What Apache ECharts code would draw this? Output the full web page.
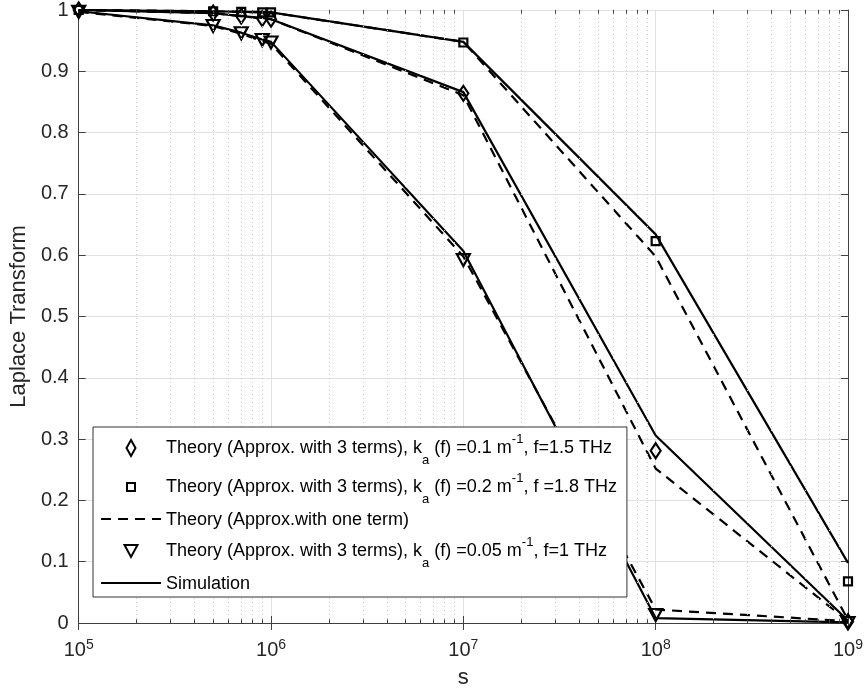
<!DOCTYPE html>
<html>
<head>
<meta charset="utf-8">
<script src="https://cdn.jsdelivr.net/npm/echarts@6/dist/echarts.min.js"></script>
<style>
  html, body { margin: 0; padding: 0; background: #fff; }
  #chart { width: 866px; height: 694px; }
</style>
</head>
<body>
<div id="chart"></div>
<script>
// x values (s) shared by every curve
var sVals = [1e5, 5e5, 7e5, 9e5, 1e6, 1e7, 1e8, 1e9];
var decades = [1e5, 1e6, 1e7, 1e8, 1e9];
var minorSteps = [2, 3, 4, 5, 6, 7, 8, 9];

// k_a = 0.1, f = 1.5 THz
var diaTheory  = [1.000, 0.995, 0.990, 0.986, 0.985, 0.864, 0.281, 0.002];
var diaOneTerm = [1.000, 0.995, 0.990, 0.986, 0.985, 0.861, 0.252, 0.003];
var diaSim     = [1.000, 0.995, 0.990, 0.987, 0.985, 0.866, 0.306, 0.004];
// k_a = 0.2, f = 1.8 THz
var sqTheory  = [1.000, 0.998, 0.997, 0.996, 0.996, 0.947, 0.623, 0.068];
var sqOneTerm = [1.000, 0.998, 0.997, 0.996, 0.996, 0.948, 0.598, 0.005];
var sqSim     = [1.000, 0.998, 0.997, 0.997, 0.996, 0.948, 0.634, 0.098];
// k_a = 0.05, f = 1 THz
var triTheory  = [0.997, 0.974, 0.962, 0.951, 0.947, 0.592, 0.013, 0.000];
var triOneTerm = [0.997, 0.974, 0.961, 0.949, 0.945, 0.598, 0.022, 0.003];
var triSim     = [0.998, 0.975, 0.963, 0.952, 0.948, 0.607, 0.008, 0.001];

var nDia = 'Theory (Approx. with 3 terms), ka (f) =0.1 m-1, f=1.5 THz';
var nSq = 'Theory (Approx. with 3 terms), ka (f) =0.2 m-1, f =1.8 THz';
var nDash = 'Theory (Approx.with one term)';
var nTri = 'Theory (Approx. with 3 terms), ka (f) =0.05 m-1, f=1 THz';
var nSim = 'Simulation';

var legendText = {};
legendText[nDia] = '{t|Theory (Approx. with 3 terms), k}{sub|a}{t| (f) =0.1 m}{sup|-1}{t|, f=1.5 THz}';
legendText[nSq] = '{t|Theory (Approx. with 3 terms), k}{sub|a}{t| (f) =0.2 m}{sup|-1}{t|, f =1.8 THz}';
legendText[nDash] = '{p|Theory (Approx.with one term)}';
legendText[nTri] = '{t|Theory (Approx. with 3 terms), k}{sub|a}{t| (f) =0.05 m}{sup|-1}{t|, f=1 THz}';
legendText[nSim] = '{p|Simulation}';

var font = 'Liberation Sans, Arial, Helvetica, sans-serif';
var axisColor = '#404040';

function pairs(arr) {
  return sVals.map(function (s, i) { return [s, arr[i]]; });
}

function markerSeries(name, arr, symbol, size, rotate) {
  return {
    name: name, type: 'scatter', data: pairs(arr), z: 4,
    symbol: symbol, symbolSize: size, symbolRotate: rotate || 0,
    itemStyle: { color: 'rgba(0,0,0,0)', borderColor: '#000', borderWidth: 2.2, opacity: 1 }
  };
}

function lineSeries(name, arr, dashed) {
  return {
    name: name, type: 'line', data: pairs(arr), symbol: 'none', z: 3,
    lineStyle: { color: '#000', width: 2.2, type: dashed ? [10, 7] : 'solid' },
    // transparent so the legend icon shows only the line
    itemStyle: { color: 'rgba(0,0,0,0)', borderWidth: 0 }
  };
}

// minor grid / minor ticks at 2..9 x 10^n
var minorVals = [];
decades.slice(0, -1).forEach(function (d) {
  minorSteps.forEach(function (m) { minorVals.push(m * d); });
});

var minorGrid = minorVals.map(function (v) { return { xAxis: v }; });
var minorTicks = [];
minorVals.forEach(function (v) {
  minorTicks.push([{ coord: [v, 0] }, { coord: [v, 0.006] }]);
  minorTicks.push([{ coord: [v, 1] }, { coord: [v, 0.994] }]);
});

var chart = echarts.init(document.getElementById('chart'));

var option = {
  animation: false,
  backgroundColor: '#fff',
  grid: { left: 76, right: 17, top: 10, bottom: 68 },
  legend: {
    orient: 'vertical',
    left: 93, top: 427,
    padding: [2, 10, 2, 7],
    itemGap: 1,
    itemWidth: 60, itemHeight: 16,
    itemTextGap: 5,
    backgroundColor: '#fff',
    borderColor: '#333', borderWidth: 1,
    z: 10,
    data: [
      { name: nDia, icon: 'path://M0,0M16,16M8,0L12.5,8L8,16L3.5,8Z' },
      { name: nSq, icon: 'path://M0,0M16,16M4,4L12,4L12,12L4,12Z' },
      nDash,
      { name: nTri, icon: 'path://M0,0M16,16M1.5,2L14.5,2L8,14Z' },
      nSim
    ],
    formatter: function (name) { return legendText[name]; },
    textStyle: {
      fontFamily: font, fontSize: 18, color: '#000',
      rich: {
        t: { fontFamily: font, fontSize: 18, color: '#000', lineHeight: 38 },
        sub: { fontFamily: font, fontSize: 13, color: '#000', lineHeight: 6, padding: [25, 0, 0, 0] },
        sup: { fontFamily: font, fontSize: 13, color: '#000', lineHeight: 6, padding: [0, 0, 18, 0] },
        p: { fontFamily: font, fontSize: 18, color: '#000', lineHeight: 18, padding: [4, 0, 2, 0] }
      }
    }
  },
  xAxis: [{
    type: 'log', logBase: 10, min: 1e5, max: 1e9,
    name: 's', nameLocation: 'middle', nameGap: 44,
    nameTextStyle: { fontFamily: font, fontSize: 22, color: '#262626' },
    axisLine: { lineStyle: { color: axisColor, width: 1 } },
    axisTick: { inside: true, length: 7, lineStyle: { color: axisColor } },
    splitLine: { show: true, lineStyle: { color: '#e1e1e1', width: 1 } },
    axisLabel: {
      margin: 15,
      formatter: function (v) {
        return '{b|10}{e|' + Math.round(Math.log10(v)) + '}';
      },
      rich: {
        b: { fontFamily: font, fontSize: 20, color: '#262626', lineHeight: 24 },
        e: { fontFamily: font, fontSize: 14, color: '#262626', lineHeight: 10, verticalAlign: 'top' }
      }
    }
  }, {
    type: 'log', logBase: 10, min: 1e5, max: 1e9, position: 'top',
    axisLine: { lineStyle: { color: axisColor, width: 1 } },
    axisTick: { inside: true, length: 7, lineStyle: { color: axisColor } },
    axisLabel: { show: false },
    splitLine: { show: false }
  }],
  yAxis: [{
    type: 'value', min: 0, max: 1, interval: 0.1,
    name: 'Laplace Transform', nameLocation: 'middle', nameGap: 45,
    nameTextStyle: { fontFamily: font, fontSize: 22, color: '#262626' },
    axisLine: { show: true, lineStyle: { color: axisColor, width: 1 } },
    axisTick: { show: true, inside: true, length: 7, lineStyle: { color: axisColor } },
    splitLine: { show: true, lineStyle: { color: '#e1e1e1', width: 1 } },
    axisLabel: { fontFamily: font, fontSize: 20, color: '#262626', margin: 10 }
  }, {
    type: 'value', min: 0, max: 1, interval: 0.1, position: 'right',
    axisLine: { show: true, lineStyle: { color: axisColor, width: 1 } },
    axisTick: { show: true, inside: true, length: 7, lineStyle: { color: axisColor } },
    axisLabel: { show: false },
    splitLine: { show: false }
  }],
  series: [
    {
      name: 'minorGrid', type: 'line', data: [], silent: true, z: 1,
      markLine: {
        silent: true, symbol: ['none', 'none'], label: { show: false },
        lineStyle: { color: '#c9c9c9', type: [1, 3], width: 1 },
        data: minorGrid
      }
    },
    {
      name: 'minorTicks', type: 'line', data: [], silent: true, z: 1,
      markLine: {
        silent: true, symbol: ['none', 'none'], label: { show: false },
        lineStyle: { color: axisColor, type: 'solid', width: 1 },
        data: minorTicks
      }
    },
    lineSeries(nDash, diaOneTerm, true),
    lineSeries(nDash, sqOneTerm, true),
    lineSeries(nDash, triOneTerm, true),
    lineSeries(nSim, diaSim, false),
    lineSeries(nSim, sqSim, false),
    lineSeries(nSim, triSim, false),
    markerSeries(nDia, diaTheory, 'diamond', [10, 15]),
    markerSeries(nSq, sqTheory, 'rect', 8),
    markerSeries(nTri, triTheory, 'triangle', [13, 12], 180)
  ]
};

chart.setOption(option);
</script>
</body>
</html>
